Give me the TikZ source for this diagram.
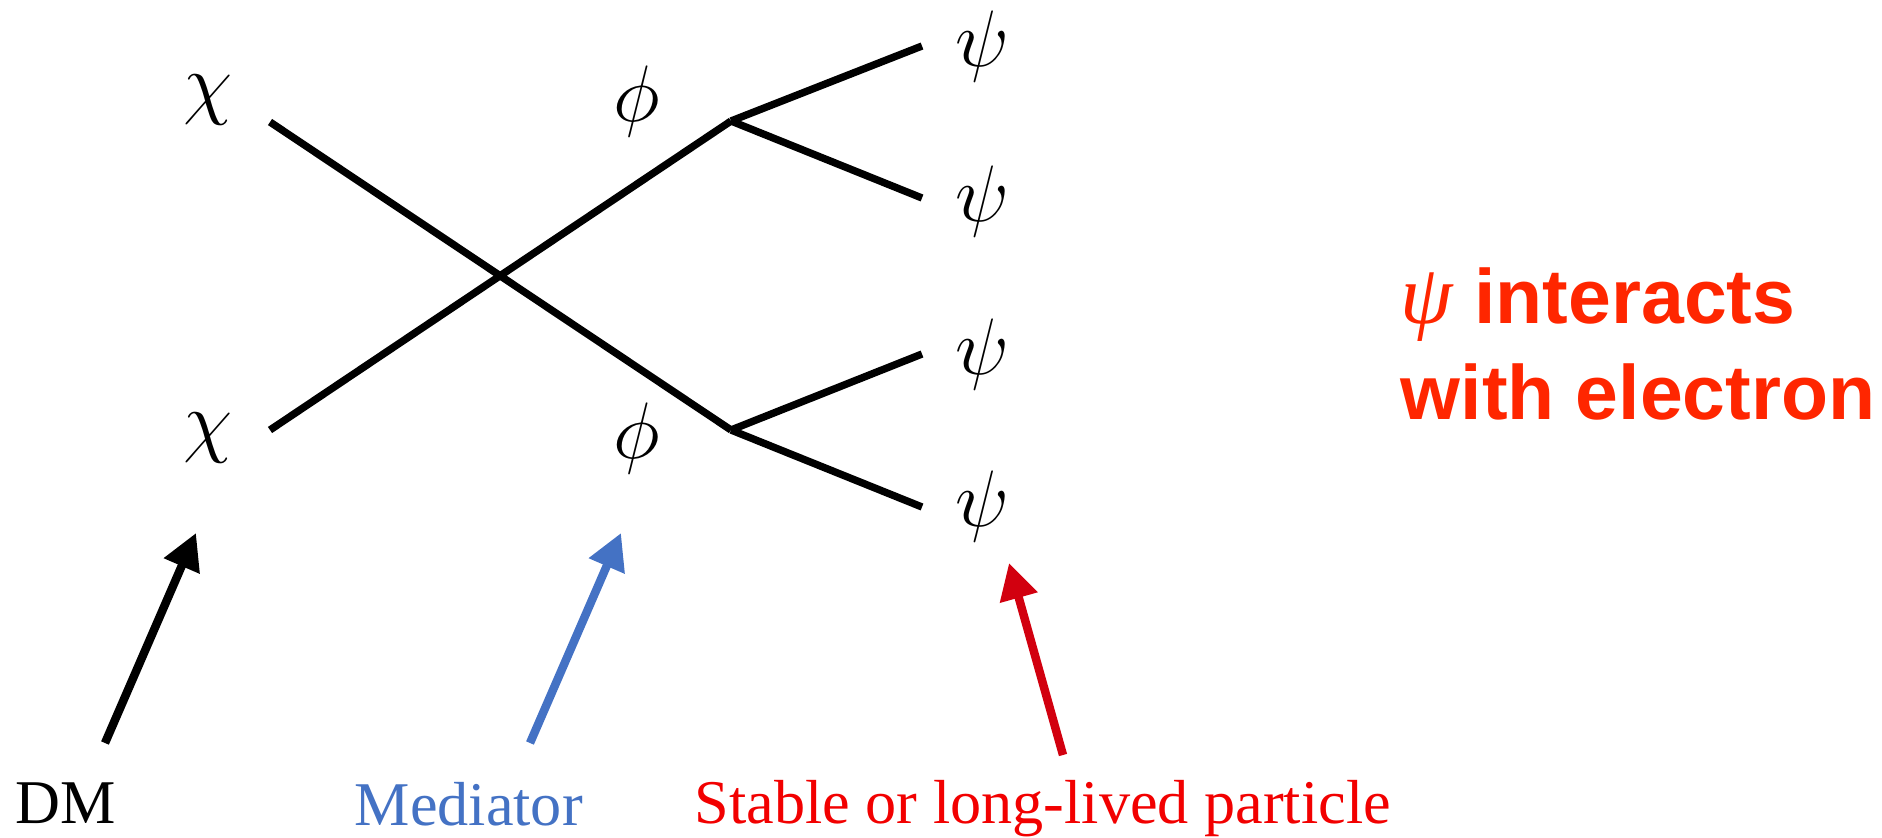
\documentclass[tikz,border=0pt]{standalone}
\usepackage{fix-cm}
\usepackage{fontspec}
\setmainfont{Liberation Serif}
\newfontfamily\calloutsans{Liberation Sans}
\usetikzlibrary{arrows.meta}
\definecolor{fdink}{HTML}{000000}
\definecolor{fdblue}{HTML}{4472C4}
\definecolor{fdred}{HTML}{F20000}
\definecolor{fdarrowred}{HTML}{D2000F}
\definecolor{fdorange}{HTML}{FF2600}
\tikzset{
  % the propagators of the graph
  fd line/.style={
    draw=fdink, line width=2.1pt, line cap=butt,
  },
  % particle symbols sitting at the legs
  fd symbol/.style={
    anchor=base, inner sep=0pt, text=fdink,
    font=\fontsize{22.8}{27}\selectfont,
  },
  % pointers from the captions up to the legs
  fd pointer/.style={
    line width=2.4pt,
    -{Triangle[length=3.6mm,width=3.7mm]},
  },
  % captions along the bottom
  fd caption/.style={
    anchor=base west, inner sep=0pt,
    font=\fontsize{17.7}{21}\selectfont,
  },
  % the remark on the right
  fd remark/.style={
    anchor=base west, inner sep=0pt, text=fdorange,
    font=\calloutsans\bfseries\fontsize{21.9}{26}\selectfont,
  },
}

\begin{document}
\begin{tikzpicture}[x=1cm,y=1cm]
  \useasboundingbox (0,0) rectangle (18.82,-8.37);

  % ---- the legs ------------------------------------------------------------
  \coordinate (in1)  at (2.70,-1.22);
  \coordinate (in2)  at (2.70,-4.30);
  \coordinate (vtop) at (7.31,-1.21);
  \coordinate (vbot) at (7.31,-4.30);
  \coordinate (out1) at (9.22,-0.46);
  \coordinate (out2) at (9.22,-1.98);
  \coordinate (out3) at (9.22,-3.54);
  \coordinate (out4) at (9.22,-5.07);

  \draw[fd line] (in1) -- (vbot);
  \draw[fd line] (in2) -- (vtop);
  \draw[fd line] (vtop) -- (out1);
  \draw[fd line] (vtop) -- (out2);
  \draw[fd line] (vbot) -- (out3);
  \draw[fd line] (vbot) -- (out4);

  \node[fd symbol] (chi1) at (2.08,-1.09) {$\chi$};
  \node[fd symbol] (chi2) at (2.08,-4.47) {$\chi$};
  \node[fd symbol] (phi1) at (6.37,-1.21) {$\phi$};
  \node[fd symbol] (phi2) at (6.37,-4.58) {$\phi$};
  \node[fd symbol] (psi1) at (9.82,-0.67) {$\psi$};
  \node[fd symbol] (psi2) at (9.82,-2.21) {$\psi$};
  \node[fd symbol] (psi3) at (9.82,-3.74) {$\psi$};
  \node[fd symbol] (psi4) at (9.82,-5.26) {$\psi$};

  % ---- what each leg is ----------------------------------------------------
  \node[fd caption,text=fdink]  (dm)     at (0.15,-8.23) {DM};
  \node[fd caption,text=fdblue] (med)    at (3.54,-8.25) {Mediator};
  \node[fd caption,text=fdred]  (stable) at (6.94,-8.23) {Stable or long-lived particle};

  \coordinate (dmtail)  at (1.05,-7.43);
  \coordinate (dmtip)   at (1.96,-5.33);
  \coordinate (medtail) at (5.30,-7.43);
  \coordinate (medtip)  at (6.21,-5.33);
  \coordinate (sttail)  at (10.63,-7.55);
  \coordinate (sttip)   at (10.09,-5.63);

  \draw[fd pointer,draw=fdink,fill=fdink]             (dmtail)  -- (dmtip);
  \draw[fd pointer,draw=fdblue,fill=fdblue]           (medtail) -- (medtip);
  \draw[fd pointer,draw=fdarrowred,fill=fdarrowred]   (sttail)  -- (sttip);

  % ---- remark ---------------------------------------------------------------
  \node[fd remark] (rem1) at (14.00,-3.23)
    {{\rmfamily\mdseries\itshape\fontsize{24}{26}\selectfont ψ} interacts};
  \node[fd remark] (rem2) at (14.00,-4.19) {with electron};

\end{tikzpicture}
\end{document}
